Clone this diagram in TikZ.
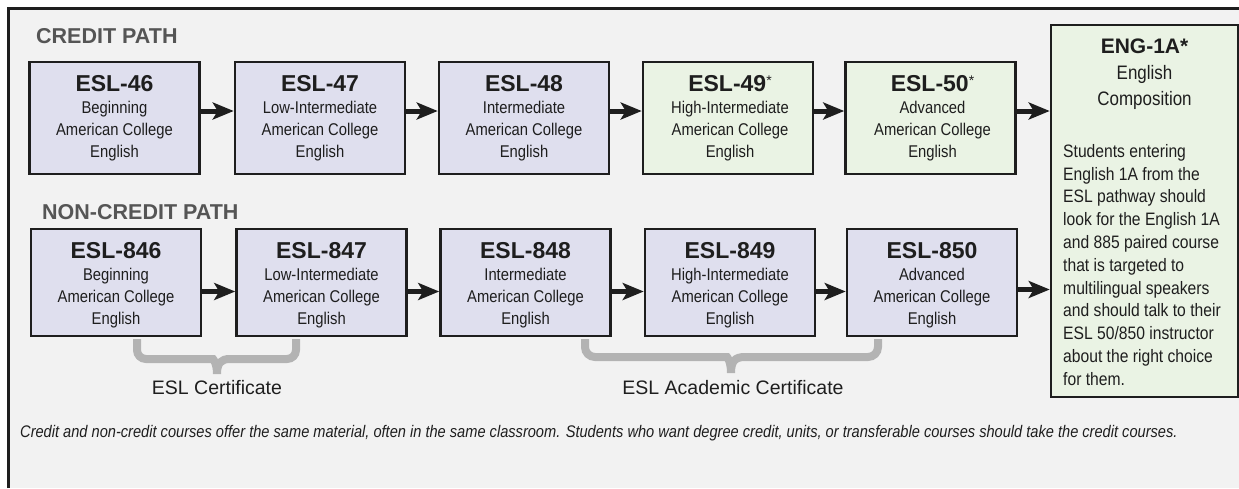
\documentclass[tikz,border=0pt]{standalone}
\usepackage{fontspec}
\setmainfont{Liberation Sans}
\newfontfamily\condfont[FakeStretch=0.87]{Liberation Sans}
\usetikzlibrary{arrows.meta,calc}
\definecolor{bg}{HTML}{F2F2F2}
\definecolor{lav}{HTML}{DFDFEE}
\definecolor{mint}{HTML}{EAF3E4}
\definecolor{ink}{HTML}{1E1E1E}
\definecolor{hdr}{HTML}{555555}
\definecolor{bracegray}{HTML}{B3B3B3}
\newcommand\ttlfont{\rmfamily\fontsize{23}{26}\bfseries\selectfont}
\newcommand\subfnt{\condfont\fontsize{17}{21.8}\selectfont}
\newcommand\engsub{\condfont\fontsize{19.5}{26}\selectfont}
\newcommand\astx{\raisebox{6pt}{\rmfamily\fontsize{14}{14}\mdseries\selectfont *}}
\begin{document}
\begin{tikzpicture}[x=1pt,y=-1pt,
  coursebox/.style={draw=ink, line width=2.6, inner sep=0, minimum width=170},
  rowone/.style={coursebox, minimum height=112},
  rowtwo/.style={coursebox, minimum height=107},
  boxtext/.style={anchor=north, align=center, inner sep=0, font=\subfnt, text=ink},
  arr/.style={line width=5, draw=ink, -{Stealth[length=21pt, width=17pt, inset=5pt]}},
  brc/.style={draw=bracegray, line width=8},
  hdrtext/.style={anchor=base west, inner sep=0, text=hdr, font=\fontsize{21.5}{24}\bfseries\selectfont},
  certtext/.style={anchor=base, inner sep=0, text=ink, font=\fontsize{19.5}{22}\selectfont}
]
\useasboundingbox (0,0) rectangle (1239,488);
\fill[white] (0,0) rectangle (1239,488);
\fill[bg] (8,8) rectangle (1239,488);
\draw[ink, line width=3] (8,488) -- (8,8) -- (1239,8);

% headers
\node[hdrtext] (hcredit) at (36,43) {CREDIT PATH};
\node[hdrtext] (hnon) at (42,219) {NON-CREDIT PATH};

% credit row boxes
\node[rowone, fill=lav]  (b1) at (114.5,118) {};
\node[rowone, fill=lav]  (b2) at (320,118) {};
\node[rowone, fill=lav]  (b3) at (524,118) {};
\node[rowone, fill=mint] (b4) at (728,118) {};
\node[rowone, fill=mint] (b5) at (930.5,118) {};

\node[boxtext] (t1) at ($(b1.north)+(0,11)$) {\rule{0pt}{20pt}{\ttlfont ESL-46}\\Beginning\\American College\\English};
\node[boxtext] (t2) at ($(b2.north)+(0,11)$) {\rule{0pt}{20pt}{\ttlfont ESL-47}\\Low-Intermediate\\American College\\English};
\node[boxtext] (t3) at ($(b3.north)+(0,11)$) {\rule{0pt}{20pt}{\ttlfont ESL-48}\\Intermediate\\American College\\English};
\node[boxtext] (t4) at ($(b4.north)+(2,11)$) {\rule{0pt}{20pt}{\ttlfont ESL-49\astx}\\High-Intermediate\\American College\\English};
\node[boxtext] (t5) at ($(b5.north)+(2,11)$) {\rule{0pt}{20pt}{\ttlfont ESL-50\astx}\\Advanced\\American College\\English};

% non-credit row boxes
\node[rowtwo, fill=lav] (n1) at (116,282.5) {};
\node[rowtwo, fill=lav] (n2) at (321.5,282.5) {};
\node[rowtwo, fill=lav] (n3) at (525.5,282.5) {};
\node[rowtwo, fill=lav] (n4) at (730,282.5) {};
\node[rowtwo, fill=lav] (n5) at (932,282.5) {};

\node[boxtext] (m1) at ($(n1.north)+(0,11)$) {\rule{0pt}{20pt}{\ttlfont ESL-846}\\Beginning\\American College\\English};
\node[boxtext] (m2) at ($(n2.north)+(0,11)$) {\rule{0pt}{20pt}{\ttlfont ESL-847}\\Low-Intermediate\\American College\\English};
\node[boxtext] (m3) at ($(n3.north)+(0,11)$) {\rule{0pt}{20pt}{\ttlfont ESL-848}\\Intermediate\\American College\\English};
\node[boxtext] (m4) at ($(n4.north)+(0,11)$) {\rule{0pt}{20pt}{\ttlfont ESL-849}\\High-Intermediate\\American College\\English};
\node[boxtext] (m5) at ($(n5.north)+(0,11)$) {\rule{0pt}{20pt}{\ttlfont ESL-850}\\Advanced\\American College\\English};

% ENG box
\node[coursebox, fill=mint, minimum width=187, minimum height=372] (eng) at (1144.5,211) {};
\node[boxtext, font=\engsub] (engt) at ($(eng.north)+(0,10)$) {\rule{0pt}{20pt}{\rmfamily\fontsize{21}{24}\bfseries\selectfont ENG-1A*}\\English\\Composition};
\node[anchor=north west, align=left, inner sep=0, text=ink, font=\condfont\fontsize{18}{22.8}\selectfont] (engb) at (1063,141)
 {\rule{0pt}{16pt}Students entering\\English 1A from the\\ESL pathway should\\look for the English 1A\\and 885 paired course\\that is targeted to\\multilingual speakers\\and should talk to their\\ESL 50/850 instructor\\about the right choice\\for them.};

% arrows credit row
\draw[arr] ([yshift=7pt]b1.east) -- ([yshift=7pt]b2.west);
\draw[arr] ([yshift=7pt]b2.east) -- ([yshift=7pt]b3.west);
\draw[arr] ([yshift=7pt]b3.east) -- ([yshift=7pt]b4.west);
\draw[arr] ([yshift=7pt]b4.east) -- ([yshift=7pt]b5.west);
\draw[arr] ([yshift=7pt]b5.east) -- ([yshift=7pt]b5.east -| eng.west);
% arrows non-credit row
\draw[arr] ([yshift=-9pt]n1.east) -- ([yshift=-9pt]n2.west);
\draw[arr] ([yshift=-9pt]n2.east) -- ([yshift=-9pt]n3.west);
\draw[arr] ([yshift=-9pt]n3.east) -- ([yshift=-9pt]n4.west);
\draw[arr] ([yshift=-9pt]n4.east) -- ([yshift=-9pt]n5.west);
\draw[arr] ([yshift=-7pt]n5.east) -- ([yshift=-7pt]n5.east -| eng.west);

% braces
\draw[brc] (137,339) [rounded corners=9] -- (137,359) -- (204,359) [sharp corners]
  .. controls (213,359) and (217,363) .. (217,374)
  .. controls (217,363) and (221,359) .. (230,359) [rounded corners=9] -- (296,359) -- (296,339);
\draw[brc] (585,339) [rounded corners=10] -- (585,357) -- (717,357) [sharp corners]
  .. controls (727,357) and (731,361) .. (731,373)
  .. controls (731,361) and (735,357) .. (745,357) [rounded corners=10] -- (878,357) -- (878,339);
\node[certtext] (cert1) at (217,394) {ESL Certificate};
\node[certtext] (cert2) at (733,394) {ESL Academic Certificate};

% footnote
\node[anchor=base west, inner sep=0, text=ink, font=\condfont\itshape\fontsize{16.8}{19}\selectfont] (foot) at (20,437)
 {Credit and non-credit courses offer the same material, often in the same classroom. Students who want degree credit, units, or transferable courses should take the credit courses.};
\end{tikzpicture}
\end{document}
